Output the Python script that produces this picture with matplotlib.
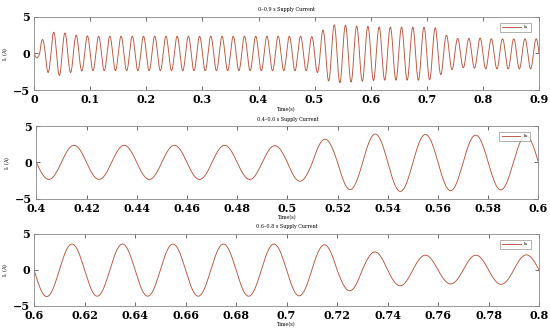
import numpy as np
import matplotlib
matplotlib.use("Agg")
import matplotlib.pyplot as plt

# supply frequency (Hz) and per-cycle extremes
f_line = 50
# trough value of each cycle (at t = 0.02k + 0.005)
troughs = [-0.6, -2.6, -3.0, -2.6, -2.4,
           -2.35, -2.35, -2.35, -2.35, -2.35, -2.35, -2.35, -2.35, -2.35, -2.35,
           -2.35, -2.35, -2.35, -2.35, -2.35, -2.35, -2.35, -2.35, -2.35, -2.35,
           -2.6, -3.75, -4.0, -3.9, -3.8,
           -3.7, -3.65, -3.65, -3.65, -3.65,
           -3.6, -2.9, -2.2, -1.95, -2.0,
           -2.1, -2.1, -2.1, -2.1, -2.1]
# peak value of each cycle (at t = 0.02k + 0.015)
peaks = [1.9, 2.9, 2.8, 2.5, 2.4,
         2.35, 2.35, 2.35, 2.35, 2.35, 2.35, 2.35, 2.35, 2.35, 2.35,
         2.35, 2.35, 2.35, 2.35, 2.35, 2.35, 2.35, 2.35, 2.35, 2.3,
         3.2, 3.9, 3.85, 3.75, 3.7,
         3.6, 3.6, 3.6, 3.6, 3.6,
         3.5, 2.5, 2.05, 2.05, 2.1,
         2.0, 2.0, 2.0, 2.0, 2.0]

titles = ["0\u20130.9 s Supply Current",
          "0.4\u20130.6 s Supply Current",
          "0.6\u20130.8 s Supply Current"]
xlims = [(0, 0.9), (0.4, 0.6), (0.6, 0.8)]
xsteps = [0.1, 0.02, 0.02]

# build the trace: each half cycle is a sine lobe scaled to its read extreme
t = np.linspace(0, 0.9, 9001)
half = np.floor(t * f_line * 2).astype(int).clip(0, 89)
amp = np.where(half % 2 == 0,
               -np.array(troughs)[half // 2],
               np.array(peaks)[half // 2])
ia = -amp * np.sin(2 * np.pi * f_line * t)

plt.rcParams.update({
    "font.family": "serif",
    "font.serif": ["DejaVu Serif"],
})

line_color = "#b8553a"
fig = plt.figure(figsize=(5.5, 3.3), dpi=100)
positions = [[0.062, 0.727, 0.918, 0.222],
             [0.066, 0.398, 0.913, 0.220],
             [0.062, 0.073, 0.918, 0.218]]

for i, pos in enumerate(positions):
    ax = fig.add_axes(pos)
    lo, hi = xlims[i]
    m = (t >= lo - 1e-9) & (t <= hi + 1e-9)
    ax.plot(t[m], ia[m], color=line_color, linewidth=0.65, label="Ia")
    ax.set_xlim(lo, hi)
    ax.set_ylim(-5, 5)
    xt = np.round(np.arange(lo, hi + 1e-9, xsteps[i]), 3)
    ax.set_xticks(xt)
    ax.set_xticklabels(["{:g}".format(v) for v in xt])
    ax.set_yticks([-5, 0, 5])
    ax.set_yticklabels(["\u22125", "0", "5"])
    ax.tick_params(direction="in", top=True, right=True, length=3, width=0.5,
                   labelsize=8, colors="#333333", labelcolor="black")
    ax.tick_params(axis="x", pad=3)
    ax.tick_params(axis="y", pad=3)
    for lab in ax.get_xticklabels() + ax.get_yticklabels():
        lab.set_fontweight("bold")
    for sp in ax.spines.values():
        sp.set_color("#888888")
        sp.set_linewidth(0.6)
    ax.set_title(titles[i], fontsize=3.5, pad=4)
    ax.set_xlabel("Time(s)", fontsize=3.5, labelpad=1)
    ax.set_ylabel("I$_s$ (A)", fontsize=3.5, labelpad=2)
    leg = ax.legend(loc="upper right", fontsize=3, frameon=True, fancybox=False,
                    handlelength=4.5, borderpad=0.6, bbox_to_anchor=(0.988, 0.95))
    leg.get_frame().set_edgecolor("#777777")
    leg.get_frame().set_linewidth(0.5)

fig.savefig("out.png", dpi=100)
